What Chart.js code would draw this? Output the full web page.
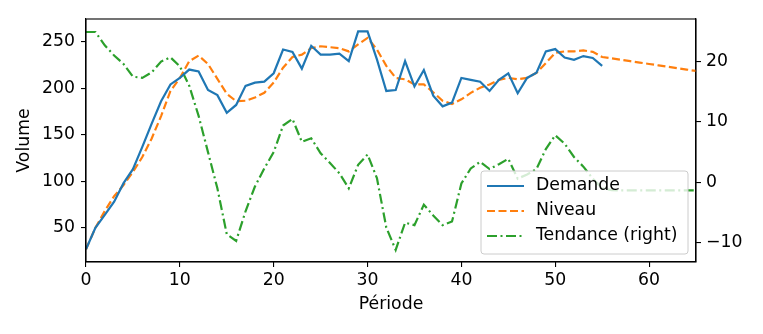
<!DOCTYPE html>
<html>
<head>
<meta charset="utf-8">
<script src="https://cdn.jsdelivr.net/npm/chart.js@4.4.1/dist/chart.umd.min.js"></script>
<style>
  html, body { margin: 0; padding: 0; background: #fff; }
</style>
</head>
<body>
<canvas id="graphique" width="763" height="334"></canvas>
<script>
// Données
const periodes = [0, 1, 2, 3, 4, 5, 6, 7, 8, 9, 10, 11, 12, 13, 14, 15, 16, 17, 18, 19,
  20, 21, 22, 23, 24, 25, 26, 27, 28, 29, 30, 31, 32, 33, 34, 35, 36, 37, 38, 39,
  40, 41, 42, 43, 44, 45, 46, 47, 48, 49, 50, 51, 52, 53, 54, 55, 56, 57, 58, 59,
  60, 61, 62, 63, 64, 65];

const demande = [27, 50, 64, 78, 98, 113, 137, 162, 186, 204,
  211, 220, 218, 198, 192.5, 173.5, 182, 202.5, 206, 207,
  216, 241.5, 239, 221, 245.5, 236, 236, 237, 229, 261,
  261, 231, 197, 198, 229, 202, 219.5, 192, 180.5, 184.5,
  211, 209, 207, 197, 209, 216, 194.5, 211, 216.5, 239.5,
  242, 233, 230.5, 234.5, 232.5, 224];

const niveau = [27, 50, 68, 84, 96, 110, 126, 146, 170, 197,
  211, 229, 235, 226, 210, 194, 186, 186.5, 190, 195,
  206, 222, 233.5, 236, 243, 245, 244, 243, 239.5, 247,
  254, 241.5, 224, 211, 209.5, 204, 204, 195.5, 186.5, 183,
  188, 195, 200.5, 204, 209, 211, 209.5, 211, 216.5, 227,
  238, 239.5, 239.5, 240.5, 239, 233.5, 232, 230.5, 229, 227.5,
  226, 224.5, 223, 221.5, 220, 218.5];

const tendance = [24.9, 24.9, 22.7, 21, 19.6, 17.5, 17.3, 18.2, 20, 20.7,
  19.2, 16, 11, 5, -1, -8.6, -9.7, -4.8, -0.7, 2.3,
  5, 9.4, 10.5, 6.7, 7.3, 4.8, 3.2, 1.5, -1, 2.9,
  4.6, 0.7, -7.5, -11.2, -6.7, -7.1, -3.7, -5.5, -7.1, -6.5,
  -0.2, 2.3, 3.4, 2.2, 3, 3.9, 0.6, 1.3, 2.2, 5.5,
  7.8, 6.4, 4.2, 2.6, 0.6, -1, -1.3, -1.35, -1.35, -1.35,
  -1.35, -1.35, -1.35, -1.35, -1.35, -1.35];

const ticksPeriode = [0, 10, 20, 30, 40, 50, 60];
const ticksVolume = [50, 100, 150, 200, 250];
const ticksTendance = [-10, 0, 10, 20];

const POLICE = { family: 'DejaVu Sans', size: 17.3 };

// points {x, y} pour l'axe linéaire
const enPoints = (valeurs) => valeurs.map((v, i) => ({ x: periodes[i], y: v }));

// cadre complet (haut compris) comme matplotlib
const cadre = {
  id: 'cadre',
  afterDatasetsDraw(chart) {
    const { ctx, chartArea: a } = chart;
    ctx.save();
    ctx.strokeStyle = '#000';
    ctx.lineWidth = 1.1;
    ctx.strokeRect(a.left, a.top, a.right - a.left, a.bottom - a.top);
    ctx.restore();
  },
};

// légende dans la zone de tracé, en bas à droite
const legendeInterne = {
  id: 'legendeInterne',
  afterDraw(chart) {
    const { ctx, chartArea: a } = chart;
    const w = 207, h = 83;
    const x0 = a.right - 8 - w;
    const y0 = a.bottom - 8 - h;
    ctx.save();
    ctx.beginPath();
    ctx.roundRect(x0, y0, w, h, 3);
    ctx.fillStyle = 'rgba(255,255,255,0.8)';
    ctx.fill();
    ctx.strokeStyle = '#cccccc';
    ctx.lineWidth = 1;
    ctx.stroke();

    chart.data.datasets.forEach((ds, i) => {
      const y = y0 + 15 + i * 25;
      ctx.beginPath();
      ctx.setLineDash(ds.borderDash || []);
      ctx.strokeStyle = ds.borderColor;
      ctx.lineWidth = ds.borderWidth;
      ctx.moveTo(x0 + 6, y);
      ctx.lineTo(x0 + 43, y);
      ctx.stroke();
      ctx.setLineDash([]);
      ctx.fillStyle = '#000';
      ctx.font = `${POLICE.size}px "${POLICE.family}"`;
      ctx.textBaseline = 'middle';
      ctx.textAlign = 'left';
      ctx.fillText(ds.label, x0 + 55, y);
    });
    ctx.restore();
  },
};

const axeCommun = {
  grid: { display: true, drawOnChartArea: false, drawTicks: true, tickLength: 5, color: '#000', lineWidth: 1.1 },
  border: { display: true, color: '#000', width: 1.1 },
};

new Chart(document.getElementById('graphique').getContext('2d'), {
  type: 'line',
  data: {
    datasets: [
      {
        label: 'Demande',
        data: enPoints(demande),
        borderColor: '#1f77b4',
        borderWidth: 2.2,
        yAxisID: 'y',
      },
      {
        label: 'Niveau',
        data: enPoints(niveau),
        borderColor: '#ff7f0e',
        borderWidth: 2.2,
        borderDash: [8, 3.5],
        yAxisID: 'y',
      },
      {
        label: 'Tendance (right)',
        data: enPoints(tendance),
        borderColor: '#2ca02c',
        borderWidth: 2.2,
        borderDash: [10, 3.5, 2, 3.5],
        yAxisID: 'y1',
      },
    ],
  },
  options: {
    responsive: false,
    devicePixelRatio: 1,
    animation: false,
    elements: { point: { radius: 0 }, line: { tension: 0 } },
    layout: { padding: { top: 19, left: 0, right: 0, bottom: 0 } },
    plugins: { legend: { display: false }, tooltip: { enabled: false } },
    scales: {
      x: {
        ...axeCommun,
        type: 'linear',
        position: 'bottom',
        min: 0,
        max: 65,
        afterBuildTicks: (s) => { s.ticks = ticksPeriode.map((v) => ({ value: v })); },
        ticks: { color: '#000', font: POLICE, padding: 3, maxRotation: 0 },
        title: { display: true, text: 'Période', color: '#000', font: POLICE, padding: { top: 0, bottom: 19 } },
        afterFit: (s) => { s.height = 72; },
      },
      y: {
        ...axeCommun,
        position: 'left',
        min: 13.3,
        max: 274.3,
        afterBuildTicks: (s) => { s.ticks = ticksVolume.map((v) => ({ value: v })); },
        ticks: { color: '#000', font: POLICE, padding: 6 },
        title: { display: true, text: 'Volume', color: '#000', font: POLICE, padding: { top: 14, bottom: 0 } },
        afterFit: (s) => { s.width = 86; },
      },
      y1: {
        ...axeCommun,
        position: 'right',
        min: -13.2,
        max: 27.05,
        afterBuildTicks: (s) => { s.ticks = ticksTendance.map((v) => ({ value: v })); },
        ticks: {
          color: '#000',
          font: POLICE,
          padding: 5,
          callback: (v) => (v < 0 ? '\u2212' + Math.abs(v) : String(v)),
        },
        afterFit: (s) => { s.width = 67; },
      },
    },
  },
  plugins: [cadre, legendeInterne],
});
</script>
</body>
</html>
